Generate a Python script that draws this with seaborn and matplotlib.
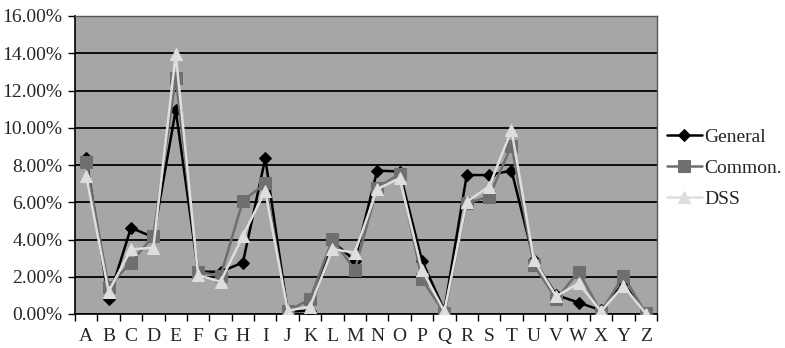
import matplotlib
matplotlib.use("Agg")
import matplotlib.pyplot as plt
import seaborn as sns
import pandas as pd
import numpy as np
from matplotlib.ticker import FixedLocator, PercentFormatter

categories = list("ABCDEFGHIJKLMNOPQRSTUVWXYZ")
general = [8.36, 0.80, 4.63, 4.12, 10.95, 2.27, 2.27, 2.76, 8.36, 0.13, 0.18, 3.90, 2.87,
           7.70, 7.65, 2.87, 0.20, 7.46, 7.46, 7.70, 2.90, 1.02, 0.61, 0.20, 1.65, 0.02]
common = [8.14, 1.47, 2.76, 4.20, 12.69, 2.27, 2.04, 6.07, 7.02, 0.16, 0.79, 4.01, 2.37,
          6.78, 7.52, 1.86, 0.05, 5.94, 6.30, 9.04, 2.63, 0.80, 2.28, 0.10, 2.05, 0.04]
dss = [7.43, 1.20, 3.47, 3.56, 13.94, 2.09, 1.73, 4.19, 6.62, 0.18, 0.39, 3.47, 3.30,
       6.70, 7.29, 2.37, 0.15, 6.03, 6.84, 9.88, 2.90, 0.95, 1.65, 0.15, 1.51, 0.02]
series_names = ["General", "Common.", "DSS"]
y_ticks = [0, 2, 4, 6, 8, 10, 12, 14, 16]

df = pd.DataFrame({
    "cat": categories * 3,
    "value": general + common + dss,
    "series": sum([[n] * len(categories) for n in series_names], []),
})

sns.set_theme(style="white")
plt.rcParams["font.family"] = ["Liberation Serif", "DejaVu Serif"]

fig = plt.figure(figsize=(7.85, 3.48), dpi=100)
ax = fig.add_axes([75 / 785, 34 / 348, 582 / 785, 298 / 348])
ax.set_facecolor("#a6a6a6")

colors = {"General": "#000000", "Common.": "#6f6f6f", "DSS": "#dedede"}
markers = {"General": "D", "Common.": "s", "DSS": "^"}
msizes = {"General": 6, "Common.": 8, "DSS": 9}

for i, name in enumerate(series_names):
    sub = df[df["series"] == name]
    sns.lineplot(data=sub, x="cat", y="value", ax=ax, color=colors[name],
                 marker=markers[name], markersize=msizes[name],
                 markeredgecolor=colors[name], linewidth=1.8, label=name,
                 sort=False, zorder=3 + i)

ax.set_xlim(-0.5, len(categories) - 0.5)
ax.set_ylim(0, 16)
ax.yaxis.set_major_locator(FixedLocator(y_ticks))
ax.yaxis.set_major_formatter(PercentFormatter(decimals=2))
ax.yaxis.grid(True, color="black", linewidth=1.3, zorder=1)
ax.set_axisbelow(True)

ax.set_xticks(range(len(categories)))
ax.set_xticklabels(categories)
ax.xaxis.set_minor_locator(FixedLocator(np.arange(-0.5, len(categories), 1.0)))
ax.tick_params(axis="x", which="major", length=0, pad=10, labelsize=14)
ax.tick_params(axis="x", which="minor", length=5, width=1, color="black", direction="out", bottom=True)
ax.tick_params(axis="y", which="major", length=5, width=1, color="black", direction="out",
               left=True, labelsize=14, pad=4)
ax.set_xlabel("")
ax.set_ylabel("")

for side in ["top", "right"]:
    ax.spines[side].set_color("#555555")
    ax.spines[side].set_linewidth(1.0)
for side in ["left", "bottom"]:
    ax.spines[side].set_color("black")
    ax.spines[side].set_linewidth(1.2)

leg = ax.legend(loc="center left", bbox_to_anchor=(1.0, 0.49), frameon=False,
                fontsize=14, handlelength=1.8, handletextpad=0.15, labelspacing=0.7,
                borderaxespad=0.1)

fig.savefig("out.png", dpi=100)
